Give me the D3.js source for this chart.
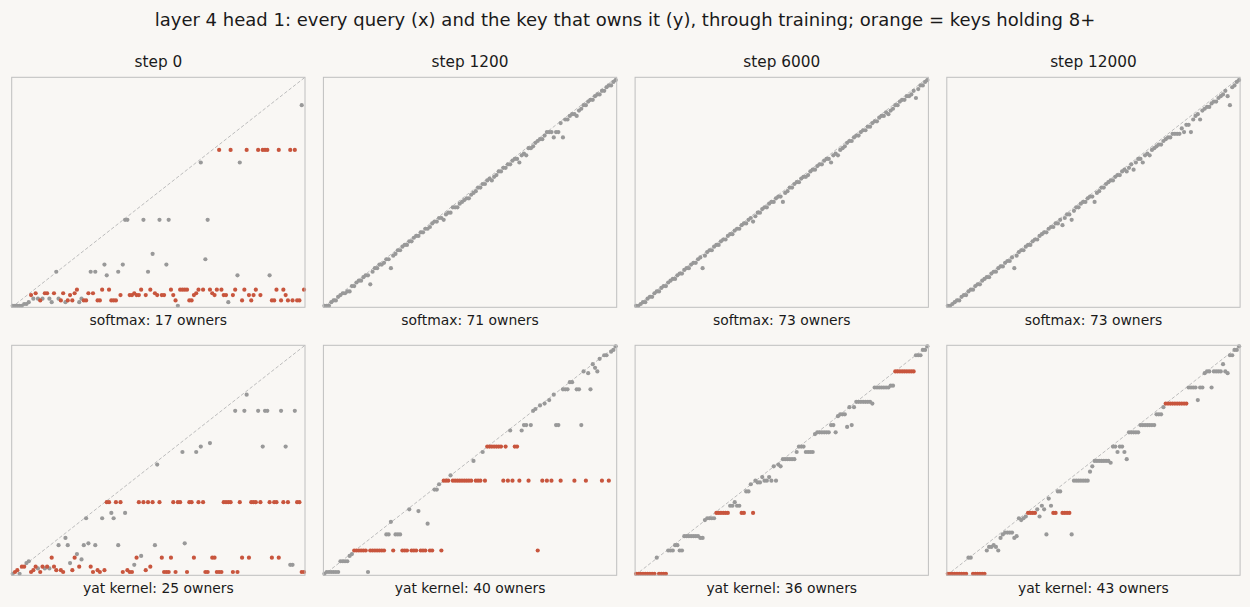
<!DOCTYPE html>
<html>
<head>
<meta charset="utf-8">
<script src="https://cdn.jsdelivr.net/npm/d3@7"></script>
<style>
  body { margin: 0; background: #f9f7f4; }
  svg { display: block; font-family: 'DejaVu Sans', sans-serif; }
</style>
</head>
<body>
<svg id="chart" width="1250" height="607"></svg>
<script>
const title = 'layer 4 head 1: every query (x) and the key that owns it (y), through training; orange = keys holding 8+'
const steps = ['step 0', 'step 1200', 'step 6000', 'step 12000']
const softmaxLabels = ['softmax: 17 owners', 'softmax: 71 owners', 'softmax: 73 owners', 'softmax: 73 owners']
const yatLabels = ['yat kernel: 25 owners', 'yat kernel: 40 owners', 'yat kernel: 36 owners', 'yat kernel: 43 owners']

// owner key for each query 0..127
const softmaxStep0 = [
  0, 0, 0, 0, 0, 1, 1, 2, 6, 4,
  7, 4, 3, 4, 7, 7, 4, 2, 7, 19,
  4, 3, 7, 2, 3, 6, 3, 7, 9, 2,
  4, 3, 3, 7, 19, 7, 19, 3, 3, 9,
  23, 17, 9, 3, 3, 3, 19, 6, 23, 48,
  48, 6, 6, 7, 6, 6, 9, 48, 6, 19,
  9, 29, 7, 6, 48, 6, 6, 23, 48, 9,
  6, 3, 0, 9, 9, 9, 9, 3, 3, 6,
  7, 9, 80, 9, 26, 48, 9, 7, 6, 9,
  87, 9, 6, 6, 2, 87, 6, 9, 17, 80,
  3, 9, 87, 6, 3, 6, 9, 87, 6, 87,
  87, 87, 17, 3, 3, 9, 87, 3, 9, 6,
  3, 87, 3, 87, 3, 3, 112, 9
]
const softmaxStep1200 = [
  0, 0, 0, 2, 3, 3, 5, 6, 7, 7,
  8, 8, 11, 11, 13, 14, 14, 16, 17, 17,
  12, 19, 21, 21, 23, 23, 24, 26, 26, 21,
  28, 29, 31, 31, 33, 34, 34, 36, 36, 38,
  39, 39, 41, 41, 43, 43, 44, 46, 47, 47,
  49, 49, 48, 51, 52, 52, 55, 55, 55, 57,
  58, 59, 60, 60, 62, 63, 64, 66, 66, 68,
  68, 70, 71, 70, 72, 73, 75, 75, 77, 77,
  79, 79, 81, 82, 82, 80, 84, 85, 84, 88,
  88, 89, 91, 92, 93, 93, 95, 97, 97, 97,
  94, 97, 97, 102, 94, 104, 104, 106, 107, 107,
  106, 109, 110, 112, 112, 114, 115, 115, 117, 118,
  118, 120, 120, 122, 123, 123, 125, 126
]
const softmaxStep6000 = [
  0, 0, 1, 2, 2, 4, 5, 5, 7, 8,
  8, 10, 11, 11, 13, 14, 15, 15, 17, 18,
  18, 20, 21, 21, 23, 24, 24, 26, 27, 21,
  28, 30, 31, 31, 33, 34, 34, 36, 37, 37,
  39, 40, 40, 42, 43, 43, 45, 46, 46, 48,
  49, 47, 50, 52, 52, 54, 55, 55, 57, 58,
  58, 60, 61, 61, 58, 63, 64, 66, 66, 68,
  69, 69, 71, 72, 72, 73, 75, 76, 76, 78,
  79, 79, 81, 82, 82, 80, 84, 85, 84, 87,
  88, 89, 91, 92, 92, 94, 95, 95, 97, 98,
  98, 100, 100, 102, 103, 103, 105, 106, 106, 108,
  107, 109, 110, 112, 112, 114, 115, 115, 117, 117,
  118, 120, 116, 121, 123, 123, 125, 126
]
const softmaxStep12000 = [
  0, 0, 1, 2, 3, 3, 5, 6, 6, 8,
  9, 9, 11, 12, 12, 14, 15, 16, 16, 18,
  19, 19, 21, 22, 22, 24, 25, 25, 27, 21,
  28, 30, 31, 31, 33, 34, 34, 36, 37, 37,
  39, 40, 41, 41, 43, 44, 44, 46, 46, 48,
  45, 49, 51, 51, 48, 53, 55, 55, 57, 58,
  58, 60, 61, 61, 58, 63, 64, 66, 66, 68,
  69, 70, 70, 72, 73, 73, 75, 76, 75, 77,
  79, 76, 80, 82, 82, 80, 84, 85, 84, 87,
  88, 89, 90, 90, 92, 93, 94, 94, 96, 96,
  96, 96, 99, 97, 101, 101, 97, 104, 106, 107,
  104, 109, 110, 111, 111, 113, 114, 114, 116, 117,
  118, 120, 117, 112, 122, 123, 125, 126
]
const yatStep0 = [
  0, 1, 2, 0, 4, 4, 6, 7, 1, 2,
  4, 3, 1, 4, 3, 4, 3, 9, 4, 2,
  16, 2, 1, 20, 16, 6, 2, 9, 11, 4,
  8, 16, 31, 17, 4, 1, 16, 2, 1, 31,
  2, 40, 40, 34, 31, 40, 16, 40, 1, 34,
  2, 1, 1, 5, 9, 40, 10, 40, 2, 40,
  4, 40, 16, 61, 40, 9, 1, 1, 1, 9,
  40, 1, 40, 40, 68, 17, 1, 40, 40, 9,
  68, 40, 71, 40, 1, 1, 73, 9, 9, 1,
  1, 1, 40, 40, 40, 40, 1, 91, 1, 40,
  9, 91, 100, 9, 40, 40, 40, 91, 40, 71,
  91, 91, 40, 9, 40, 40, 9, 91, 40, 71,
  40, 5, 5, 91, 40, 40, 1, 1
]
const yatStep1200 = [
  0, 1, 1, 1, 1, 1, 1, 7, 7, 7,
  7, 10, 11, 13, 13, 13, 13, 13, 13, 1,
  13, 13, 13, 13, 13, 13, 13, 22, 22, 29,
  13, 22, 22, 22, 13, 13, 13, 36, 13, 13,
  13, 35, 13, 13, 13, 28, 13, 13, 47, 47,
  50, 13, 52, 52, 52, 55, 52, 52, 52, 52,
  52, 52, 52, 52, 52, 63, 52, 52, 52, 68,
  52, 71, 71, 71, 71, 71, 71, 71, 52, 71,
  52, 80, 52, 71, 71, 52, 80, 83, 83, 52,
  83, 91, 92, 13, 94, 52, 95, 52, 97, 52,
  100, 83, 83, 52, 103, 103, 103, 107, 107, 52,
  103, 103, 83, 113, 52, 112, 103, 117, 115, 113,
  120, 52, 122, 122, 52, 124, 125, 127
]
const yatStep6000 = [
  0, 0, 0, 0, 0, 0, 0, 0, 0, 9,
  0, 0, 0, 0, 13, 13, 13, 16, 16, 13,
  13, 21, 21, 21, 21, 21, 21, 21, 20, 20,
  30, 31, 31, 31, 31, 34, 34, 34, 34, 34,
  34, 38, 38, 40, 38, 38, 34, 34, 46, 46,
  50, 34, 52, 51, 51, 54, 52, 52, 54, 52,
  60, 52, 61, 60, 64, 64, 64, 64, 64, 64,
  68, 71, 71, 71, 68, 68, 68, 68, 78, 79,
  79, 79, 79, 79, 79, 83, 83, 79, 88, 89,
  89, 89, 82, 93, 83, 93, 96, 96, 96, 96,
  96, 96, 96, 95, 104, 104, 104, 104, 104, 104,
  104, 105, 105, 113, 113, 113, 113, 113, 113, 113,
  113, 113, 122, 122, 122, 125, 125, 127
]
const yatStep12000 = [
  0, 0, 0, 0, 0, 0, 0, 0, 0, 9,
  9, 0, 0, 0, 0, 0, 0, 13, 15, 15,
  16, 15, 13, 20, 22, 23, 23, 23, 23, 20,
  21, 31, 30, 31, 32, 34, 34, 34, 34, 36,
  32, 38, 36, 22, 42, 38, 34, 34, 46, 46,
  34, 34, 34, 34, 22, 52, 52, 52, 52, 52,
  52, 52, 57, 60, 63, 63, 63, 63, 63, 63,
  63, 62, 71, 71, 68, 71, 71, 68, 64, 79,
  79, 79, 79, 79, 83, 83, 83, 83, 83, 83,
  83, 89, 89, 89, 93, 95, 95, 95, 95, 95,
  95, 95, 95, 95, 95, 104, 104, 104, 104, 97,
  104, 104, 112, 113, 113, 104, 113, 113, 113, 113,
  117, 113, 112, 122, 122, 125, 125, 127
]

const rows = [
  { labels: softmaxLabels, panels: [softmaxStep0, softmaxStep1200, softmaxStep6000, softmaxStep12000] },
  { labels: yatLabels, panels: [yatStep0, yatStep1200, yatStep6000, yatStep12000] }
]

const N = 128
const holdMin = 8

const bg = '#f9f7f4'
const grey = '#999999'
const orange = '#c8553d'
const ink = '#1a1a1a'

const gridLeft = 11.7
const gridTop = 77.3
const cellW = 293.3
const cellH = 230
const stepX = 311.7
const stepY = 268

const svg = d3.select('#chart')

svg.append('rect')
  .attr('width', 1250)
  .attr('height', 607)
  .attr('fill', bg)

svg.append('text')
  .attr('x', 625)
  .attr('y', 25.5)
  .attr('text-anchor', 'middle')
  .attr('font-size', 18)
  .attr('fill', ink)
  .text(title)

const x = d3.scaleLinear().domain([0, N - 1]).range([1, cellW - 1])
const y = d3.scaleLinear().domain([0, N - 1]).range([cellH - 1.5, 1])

rows.forEach((row, r) => {
  row.panels.forEach((owners, c) => {
    const g = svg.append('g')
      .attr('transform', `translate(${gridLeft + c * stepX},${gridTop + r * stepY})`)

    // how many queries each key holds
    const held = d3.rollup(owners, v => v.length, k => k)
    const pts = owners.map((k, q) => ({ q, k, big: held.get(k) >= holdMin }))

    g.append('line')
      .attr('x1', 0)
      .attr('y1', cellH)
      .attr('x2', cellW)
      .attr('y2', 0)
      .attr('stroke', '#bdbdbd')
      .attr('stroke-width', 1)
      .attr('stroke-dasharray', '3.5,2')

    g.selectAll('circle.small')
      .data(pts.filter(d => !d.big))
      .join('circle')
      .attr('class', 'small')
      .attr('cx', d => x(d.q))
      .attr('cy', d => y(d.k))
      .attr('r', 2.1)
      .attr('fill', grey)

    g.selectAll('circle.big')
      .data(pts.filter(d => d.big))
      .join('circle')
      .attr('class', 'big')
      .attr('cx', d => x(d.q))
      .attr('cy', d => y(d.k))
      .attr('r', 2.1)
      .attr('fill', orange)

    g.append('rect')
      .attr('width', cellW)
      .attr('height', cellH)
      .attr('fill', 'none')
      .attr('stroke', '#bfbfbf')
      .attr('stroke-width', 1)

    g.append('text')
      .attr('x', cellW / 2)
      .attr('y', cellH + 18)
      .attr('text-anchor', 'middle')
      .attr('font-size', 13.9)
      .attr('fill', ink)
      .text(row.labels[c])

    if (r === 0) {
      g.append('text')
        .attr('x', cellW / 2)
        .attr('y', -10)
        .attr('text-anchor', 'middle')
        .attr('font-size', 15.3)
        .attr('fill', ink)
        .text(steps[c])
    }
  })
})
</script>
</body>
</html>
